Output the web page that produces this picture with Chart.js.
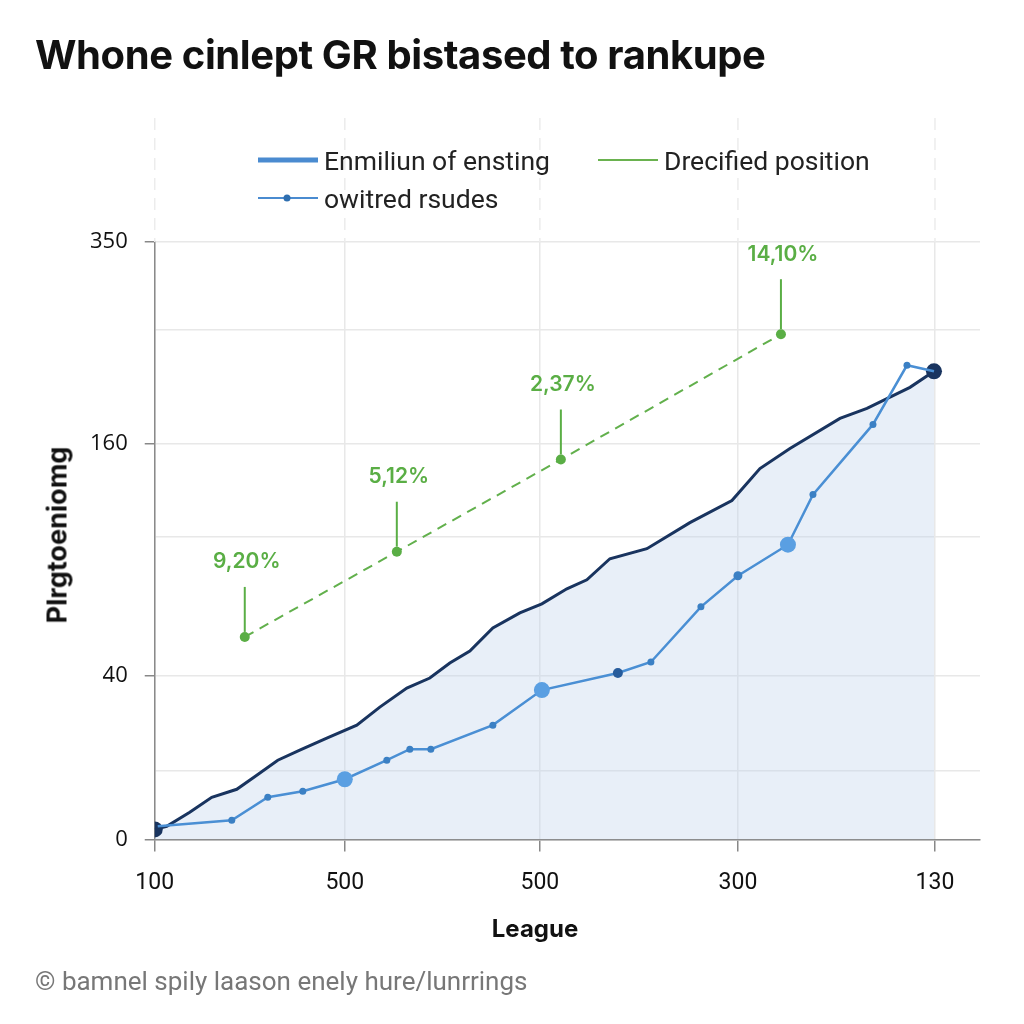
<!DOCTYPE html>
<html>
<head>
<meta charset="utf-8">
<script src="https://cdn.jsdelivr.net/npm/chart.js@4"></script>
<style>
  body { margin: 0; background: #fff; }
  #wrap { position: relative; width: 1024px; height: 1024px; overflow: hidden; }
  #chart { position: absolute; left: 0; top: 0; }
  .title { position: absolute; left: 35px; top: 30px; font: 700 40px Inter, sans-serif; color: #111; letter-spacing: -0.4px; }
  .legend { position: absolute; left: 258px; top: 141px; width: 680px; display: flex; flex-wrap: wrap; }
  .item { display: flex; align-items: center; height: 38px; font: 400 26.5px Roboto, sans-serif; color: #222; }
  .item svg { margin-right: 6px; }
  .item.first { width: 340px; }
  .ytitle { position: absolute; left: 57px; top: 535px; transform: translate(-50%, -50%) rotate(-90deg); font: 700 27px Inter, sans-serif; color: #111; white-space: nowrap; }
  .xtitle { position: absolute; left: 535px; top: 928px; transform: translate(-50%, -50%); font: 700 24px Inter, sans-serif; color: #111; }
  .foot { position: absolute; left: 35px; top: 966px; font: 400 26px Roboto, sans-serif; color: #777; }
</style>
</head>
<body>
<div id="wrap">
  <canvas id="chart" width="1024" height="1024"></canvas>
  <div class="title">Whone cinlept GR bistased to rankupe</div>
  <div class="legend" id="legend"></div>
  <div class="ytitle">Plrgtoeniomg</div>
  <div class="xtitle">League</div>
  <div class="foot">© bamnel spily laason enely hure/lunrrings</div>
</div>
<script>
// axis ticks (y axis is not linear in the picture, so values are in plot units)
var xTickValues = [0, 190, 385, 583, 780];
var xTickLabels = ['100', '500', '500', '300', '130'];
var yTickValues = [0, 68, 163, 302, 395, 508, 596];
var yTickLabels = ['0', '', '40', '', '160', '', '350'];

// Enmiliun of ensting (dark line)
var darkX = [0, 12, 35, 57, 82, 102, 123, 145, 172, 202, 225, 252, 275, 295, 315, 338, 365, 387, 412, 432, 455, 492, 535, 577, 605, 635, 685, 712, 755, 779];
var darkY = [10, 13, 27, 42, 50, 64, 79, 89, 101, 114, 132, 151, 161, 176, 188, 211, 226, 235, 250, 259, 280, 290, 316, 338, 370, 390, 420, 430, 451, 467];

// owitred rsudes (light line)
var lightX = [3, 77, 113, 148, 190, 232, 255, 276, 338, 387, 463, 496, 546, 583, 633, 658, 718, 752, 779];
var lightY = [13, 19, 42, 48, 60, 79, 90, 90, 114, 149, 166, 177, 232, 263, 294, 344, 414, 473, 467];
var lightSize = [0, 3.5, 3.5, 3.5, 8, 3.5, 3.5, 3.5, 3.5, 8, 5, 3.5, 3.5, 4.5, 8, 3.5, 3.5, 3.5, 0];

// Drecified position (green dashed)
var greenX = [90, 242, 406, 626];
var greenY = [202, 287, 379, 504];
var greenLabels = ['9,20%', '5,12%', '2,37%', '14,10%'];

function pts(xs, ys) {
    return xs.map(function (x, i) { return { x: x, y: ys[i] }; });
}

var lightColors = lightSize.map(function (s) {
    if (s >= 8) return '#5a9fe2';
    if (s === 5) return '#275c9c';
    return '#3b80c4';
});
var darkRadius = darkX.map(function (x, i) { return (i === 0 || i === darkX.length - 1) ? 8 : 0; });

var legendItems = [
    { label: 'Enmiliun of ensting', color: '#4a8bd0', width: 5, dot: false, cls: 'first' },
    { label: 'Drecified position', color: '#6ab24f', width: 2, dot: false, cls: '' },
    { label: 'owitred rsudes', color: '#4a8bd0', width: 2, dot: true, cls: 'first' }
];
var legendHtml = '';
legendItems.forEach(function (it) {
    legendHtml += '<div class="item ' + it.cls + '"><svg width="60" height="14">' +
        '<line x1="0" y1="7" x2="60" y2="7" stroke="' + it.color + '" stroke-width="' + it.width + '"/>' +
        (it.dot ? '<circle cx="29" cy="7" r="3.5" fill="#2f6fb0"/>' : '') +
        '</svg>' + it.label + '</div>';
});
document.getElementById('legend').innerHTML = legendHtml;

// labels with stems above the green points, and vertical grid going up into the legend
var extras = {
    id: 'extras',
    beforeDatasetsDraw: function (chart) {
        var ctx = chart.ctx, xs = chart.scales.x, top = chart.chartArea.top;
        ctx.save();
        ctx.strokeStyle = '#ececec';
        ctx.lineWidth = 1.5;
        ctx.setLineDash([12, 8]);
        xTickValues.forEach(function (v) {
            var px = xs.getPixelForValue(v);
            ctx.beginPath();
            ctx.moveTo(px, 118);
            ctx.lineTo(px, top);
            ctx.stroke();
        });
        ctx.restore();
    },
    afterDatasetsDraw: function (chart) {
        var ctx = chart.ctx;
        var meta = chart.getDatasetMeta(0);
        ctx.save();
        meta.data.forEach(function (p, i) {
            var len = i === meta.data.length - 1 ? 55 : 50;
            ctx.strokeStyle = '#5aae45';
            ctx.lineWidth = 2;
            ctx.beginPath();
            ctx.moveTo(p.x, p.y - 5);
            ctx.lineTo(p.x, p.y - len);
            ctx.stroke();
            ctx.fillStyle = '#5aae45';
            ctx.font = '600 21px Inter, sans-serif';
            ctx.textAlign = 'center';
            ctx.textBaseline = 'middle';
            ctx.fillText(greenLabels[i], p.x + 2, p.y - len - 25);
        });
        ctx.restore();
    }
};

var ctxC = document.getElementById('chart').getContext('2d');
var myChart = new Chart(ctxC, {
    type: 'line',
    data: {
        datasets: [
            {
                label: 'Drecified position',
                data: pts(greenX, greenY),
                borderColor: '#62b04c',
                borderWidth: 2,
                borderDash: [10, 7],
                pointRadius: 5,
                pointBackgroundColor: '#5aae45',
                pointBorderWidth: 0,
                fill: false,
                order: 0
            },
            {
                label: 'owitred rsudes',
                data: pts(lightX, lightY),
                borderColor: '#4a8fd4',
                borderWidth: 2.5,
                pointRadius: lightSize,
                pointBackgroundColor: lightColors,
                pointBorderWidth: 0,
                fill: false,
                order: 1
            },
            {
                label: 'Enmiliun of ensting',
                data: pts(darkX, darkY),
                borderColor: '#19345f',
                borderWidth: 3,
                pointRadius: darkRadius,
                pointBackgroundColor: '#19345f',
                pointBorderWidth: 0,
                fill: 'origin',
                backgroundColor: 'rgba(190,210,235,0.35)',
                order: 2
            }
        ]
    },
    options: {
        responsive: false,
        animation: false,
        layout: { padding: { top: 242, left: 73, right: 44, bottom: 109 } },
        plugins: { legend: { display: false }, tooltip: { enabled: false } },
        elements: { line: { tension: 0 } },
        scales: {
            x: {
                type: 'linear',
                min: 0,
                max: 825,
                afterBuildTicks: function (s) { s.ticks = xTickValues.map(function (v) { return { value: v }; }); },
                ticks: {
                    padding: 18,
                    color: '#111',
                    font: { family: 'Roboto', size: 23 },
                    callback: function (v, i) { return xTickLabels[i]; }
                },
                grid: {
                    color: '#e8e8e8',
                    lineWidth: 1.5,
                    borderDash: [12, 8],
                    tickLength: 12,
                    tickColor: '#888',
                    tickBorderDash: []
                },
                border: { color: '#8a8a8a', width: 1.5 }
            },
            y: {
                type: 'linear',
                min: 0,
                max: 596,
                afterBuildTicks: function (s) { s.ticks = yTickValues.map(function (v) { return { value: v }; }); },
                ticks: {
                    padding: 17,
                    color: '#111',
                    font: { family: 'Open Sans', size: 22 },
                    callback: function (v, i) { return yTickLabels[i]; }
                },
                grid: {
                    color: '#e8e8e8',
                    lineWidth: 1.5,
                    borderDash: [22, 6],
                    tickLength: 10,
                    tickColor: function (c) { return yTickLabels[c.index] ? '#888' : 'rgba(0,0,0,0)'; },
                    tickBorderDash: []
                },
                border: { color: '#8a8a8a', width: 1.5 }
            }
        }
    },
    plugins: [extras]
});
</script>
</body>
</html>
